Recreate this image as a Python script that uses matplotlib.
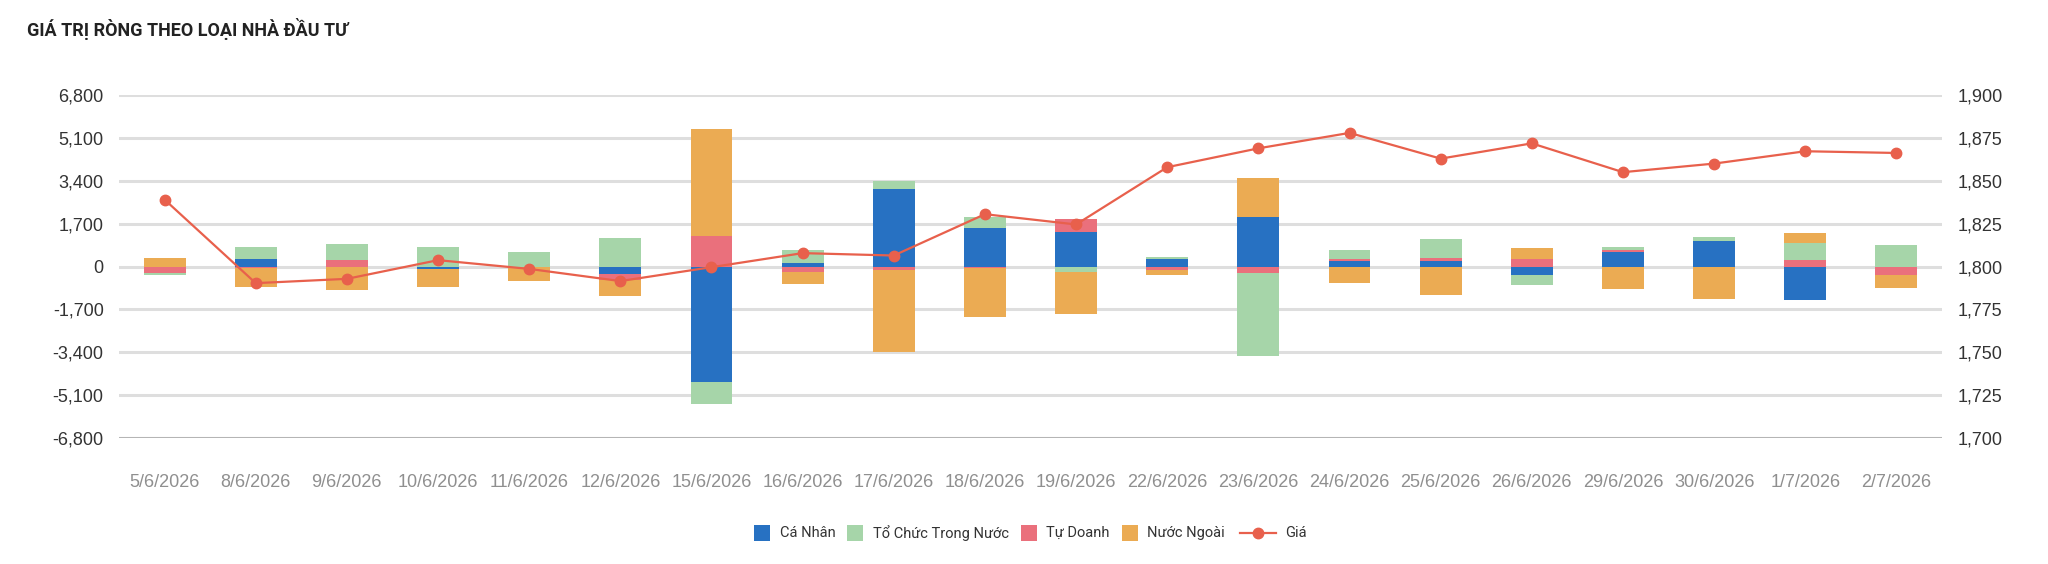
import matplotlib
matplotlib.use("Agg")
import matplotlib.pyplot as plt
import numpy as np
from matplotlib.patches import Rectangle
from matplotlib.lines import Line2D
from matplotlib.ticker import FuncFormatter

dates = ["5/6/2026", "8/6/2026", "9/6/2026", "10/6/2026", "11/6/2026", "12/6/2026",
         "15/6/2026", "16/6/2026", "17/6/2026", "18/6/2026", "19/6/2026", "22/6/2026",
         "23/6/2026", "24/6/2026", "25/6/2026", "26/6/2026", "29/6/2026", "30/6/2026",
         "1/7/2026", "2/7/2026"]

ca_nhan = [0, 310, 0, -100, 0, -290, -4570, 130, 3060, 1520, 1360, 290,
           1950, 220, 224, -335, 570, 1030, -1330, 0]
to_chuc = [-80, 450, 630, 770, 590, 1125, -900, 510, 320, 450, -200, 80,
           -3300, 360, 745, -415, 140, 158, 650, 870]
tu_doanh = [-240, -40, 260, 0, 0, -264, 1215, -220, -145, -40, 515, -130,
            -264, 60, 125, 315, 80, 0, 264, -320]
nuoc_ngoai = [340, -790, -940, -700, -590, -607, 4225, -480, -3260, -1955, -1700, -220,
              1570, -660, -1120, 400, -880, -1280, 396, -545]
gia = [1839, 1790.3, 1792.8, 1803.7, 1798.6, 1791.5, 1799.6, 1807.8, 1806.4, 1830.5,
       1824.5, 1857.9, 1868.9, 1877.9, 1862.9, 1871.8, 1855, 1860, 1867.2, 1866.2]

left_ticks = [-6800, -5100, -3400, -1700, 0, 1700, 3400, 5100, 6800]
right_ticks = [1700, 1725, 1750, 1775, 1800, 1825, 1850, 1875, 1900]

series = {
    "Cá Nhân": (ca_nhan, "#2771c2"),
    "Tổ Chức Trong Nước": (to_chuc, "#a6d5a9"),
    "Tự Doanh": (tu_doanh, "#ea707c"),
    "Nước Ngoài": (nuoc_ngoai, "#ebab53"),
}
legend_order = ["Cá Nhân", "Tổ Chức Trong Nước", "Tự Doanh", "Nước Ngoài"]
stack_order = ["Cá Nhân", "Tự Doanh", "Tổ Chức Trong Nước", "Nước Ngoài"]
line_name = "Giá"
line_color = "#e8604c"

FONT_UI = ["Roboto", "DejaVu Sans"]
FONT_NUM = ["Liberation Sans", "DejaVu Sans"]

W, H = 2048, 564
fig = plt.figure(figsize=(W / 100, H / 100), dpi=100)
ax = fig.add_axes([119 / W, 1 - 438 / H, (1942 - 119) / W, (438 - 95) / H])

x = np.arange(len(dates))
pos_base = np.zeros(len(dates))
neg_base = np.zeros(len(dates))
width = 0.46
for name in stack_order:
    vals, col = series[name]
    v = np.array(vals, dtype=float)
    bottoms = np.where(v >= 0, pos_base, neg_base)
    ax.bar(x, v, width=width, bottom=bottoms, color=col, linewidth=0, zorder=2)
    pos_base = pos_base + np.where(v > 0, v, 0)
    neg_base = neg_base + np.where(v < 0, v, 0)

ax.set_xlim(-0.5, len(dates) - 0.5)
ax.set_ylim(-6800, 6800)
ax.set_yticks(left_ticks)
ax.yaxis.set_major_formatter(FuncFormatter(lambda v, p: f"{int(v):,}"))
for t in left_ticks:
    c = "#b5b5b5" if t == -6800 else "#dedede"
    ax.axhline(t, color=c, linewidth=2.2, zorder=1)
for s in ax.spines.values():
    s.set_visible(False)
ax.tick_params(axis="y", length=0, pad=11, labelsize=13, labelcolor="#333333")
ax.set_xticks(x)
ax.set_xticklabels(dates)
ax.tick_params(axis="x", length=0, pad=26, labelsize=13, labelcolor="#8f8f8f")
for lbl in ax.get_xticklabels() + ax.get_yticklabels():
    lbl.set_family(FONT_NUM)

ax2 = ax.twinx()
ax2.plot(x, gia, color=line_color, linewidth=1.6, marker="o", markersize=7.5, zorder=5)
ax2.set_ylim(1700, 1900)
ax2.set_yticks(right_ticks)
ax2.yaxis.set_major_formatter(FuncFormatter(lambda v, p: f"{int(v):,}"))
for s in ax2.spines.values():
    s.set_visible(False)
ax2.tick_params(axis="y", length=0, pad=11, labelsize=13, labelcolor="#333333")
for lbl in ax2.get_yticklabels():
    lbl.set_family(FONT_NUM)

fig.text(27 / W, 1 - 29 / H, "GIÁ TRỊ RÒNG THEO LOẠI NHÀ ĐẦU TƯ", family=FONT_UI,
         fontsize=13, fontweight="bold", color="#222222", va="center", ha="left")

# Legend drawn by hand (flow layout)
fig.canvas.draw()
renderer = fig.canvas.get_renderer()
ly = 533
sq = 16
xcur = 754.0
for i, name in enumerate(legend_order):
    col = series[name][1]
    fig.patches.append(Rectangle((xcur / W, 1 - (ly + sq / 2) / H), sq / W, sq / H,
                                 transform=fig.transFigure, facecolor=col, edgecolor="none"))
    xcur += sq + 9.5
    t = fig.text(xcur / W, 1 - ly / H, name, family=FONT_UI, fontsize=10.5,
                 color="#333333", ha="left", va="center")
    bb = t.get_window_extent(renderer)
    xcur += bb.width
    xcur += 12 if i < len(legend_order) - 1 else 15
line_len = 36
fig.lines.append(Line2D([xcur / W, (xcur + line_len) / W], [1 - ly / H, 1 - ly / H],
                        transform=fig.transFigure, color=line_color, linewidth=1.6))
fig.lines.append(Line2D([(xcur + line_len / 2) / W], [1 - ly / H], transform=fig.transFigure,
                        color=line_color, marker="o", markersize=7.5, linestyle="none"))
xcur += line_len + 9
fig.text(xcur / W, 1 - ly / H, line_name, family=FONT_UI, fontsize=10.5,
         color="#333333", ha="left", va="center")

fig.savefig("out.png", dpi=100)
